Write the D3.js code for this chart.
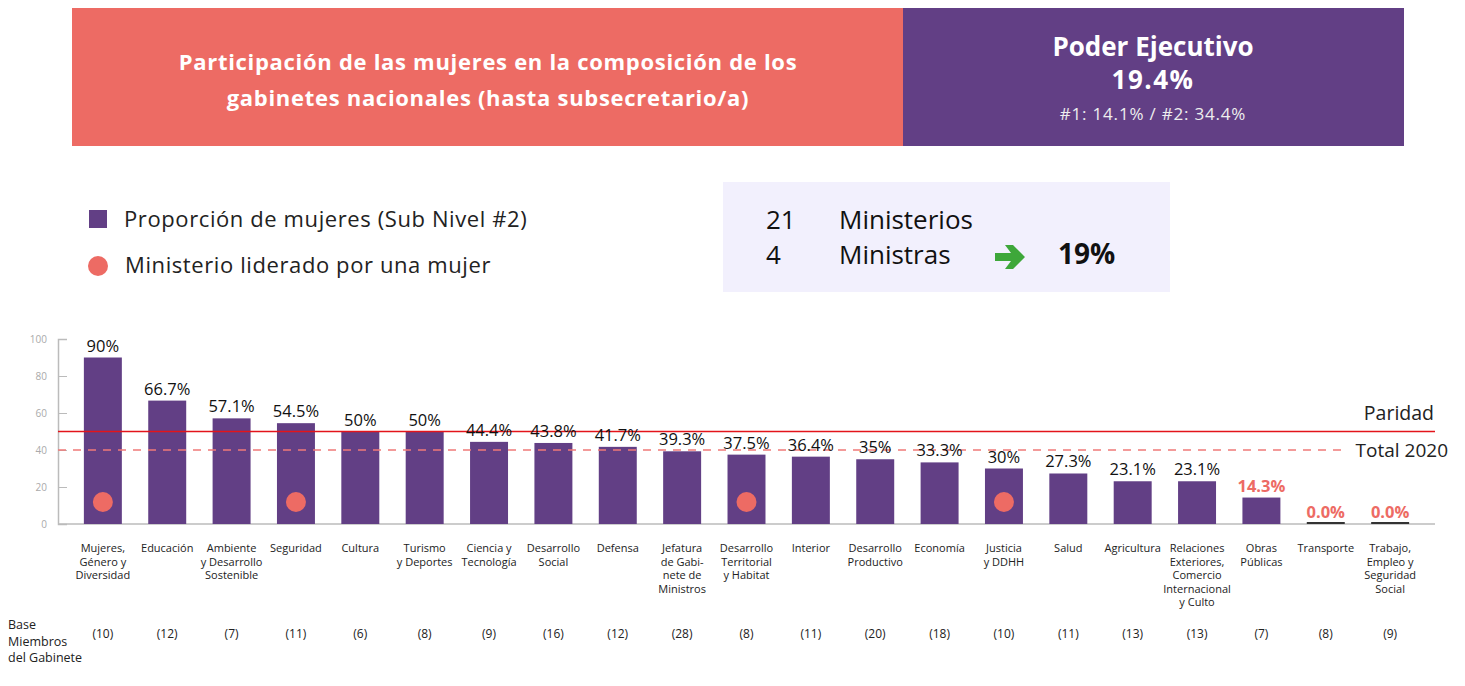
<!DOCTYPE html>
<html>
<head>
<meta charset="utf-8">
<script src="https://cdn.jsdelivr.net/npm/d3@7"></script>
<style>
  body { margin: 0; background: #fff; }
  svg { display: block; font-family: "Open Sans", Lato, sans-serif; }
</style>
</head>
<body>
<svg id="svg" width="1465" height="686"></svg>
<script>
// data
var categories = [
  ['Mujeres,', 'Género y', 'Diversidad'],
  ['Educación'],
  ['Ambiente', 'y Desarrollo', 'Sostenible'],
  ['Seguridad'],
  ['Cultura'],
  ['Turismo', 'y Deportes'],
  ['Ciencia y', 'Tecnología'],
  ['Desarrollo', 'Social'],
  ['Defensa'],
  ['Jefatura', 'de Gabi-', 'nete de', 'Ministros'],
  ['Desarrollo', 'Territorial', 'y Habitat'],
  ['Interior'],
  ['Desarrollo', 'Productivo'],
  ['Economía'],
  ['Justicia', 'y DDHH'],
  ['Salud'],
  ['Agricultura'],
  ['Relaciones', 'Exteriores,', 'Comercio', 'Internacional', 'y Culto'],
  ['Obras', 'Públicas'],
  ['Transporte'],
  ['Trabajo,', 'Empleo y', 'Seguridad', 'Social']
];
var values = [90, 66.7, 57.1, 54.5, 50, 50, 44.4, 43.8, 41.7, 39.3, 37.5, 36.4, 35, 33.3, 30, 27.3, 23.1, 23.1, 14.3, 0, 0];
var valueLabels = ['90%', '66.7%', '57.1%', '54.5%', '50%', '50%', '44.4%', '43.8%', '41.7%', '39.3%', '37.5%', '36.4%', '35%', '33.3%', '30%', '27.3%', '23.1%', '23.1%', '14.3%', '0.0%', '0.0%'];
var highlighted = [false, false, false, false, false, false, false, false, false, false, false, false, false, false, false, false, false, false, true, true, true];
var bases = [10, 12, 7, 11, 6, 8, 9, 16, 12, 28, 8, 11, 20, 18, 10, 11, 13, 13, 7, 8, 9];
var ledByWoman = [true, false, false, true, false, false, false, false, false, false, true, false, false, false, true, false, false, false, false, false, false];
var yTicks = [0, 20, 40, 60, 80, 100];
var parity = 50;
var total2020 = 40;

var purple = '#623f85';
var coral = '#ed6b64';

var svg = d3.select('svg');

// header
svg.append('rect').attr('x', 72).attr('y', 8).attr('width', 831).attr('height', 138).attr('fill', coral);
svg.append('rect').attr('x', 903).attr('y', 8).attr('width', 501).attr('height', 138).attr('fill', purple);

var title = ['Participación de las mujeres en la composición de los', 'gabinetes nacionales (hasta subsecretario/a)'];
svg.selectAll('.title').data(title).enter().append('text')
    .attr('x', 488).attr('y', function(d, i) { return 70 + i * 36; })
    .attr('text-anchor', 'middle').attr('fill', '#fff')
    .attr('font-size', 22).attr('font-weight', 'bold').attr('letter-spacing', 0.7)
    .text(function(d) { return d; });

svg.append('text').attr('x', 1153).attr('y', 56).attr('text-anchor', 'middle')
    .attr('fill', '#fff').attr('font-size', 26).attr('font-weight', 'bold').text('Poder Ejecutivo');
svg.append('text').attr('x', 1153).attr('y', 89).attr('text-anchor', 'middle')
    .attr('fill', '#fff').attr('font-size', 26).attr('font-weight', 'bold').attr('letter-spacing', 1.5).text('19.4%');
svg.append('text').attr('x', 1153).attr('y', 120).attr('text-anchor', 'middle')
    .attr('fill', '#eee').attr('font-size', 17).attr('letter-spacing', 0.8).text('#1: 14.1% / #2: 34.4%');

// legend
svg.append('rect').attr('x', 89).attr('y', 210).attr('width', 18).attr('height', 18).attr('fill', purple);
svg.append('text').attr('x', 124).attr('y', 227).attr('font-size', 22).attr('letter-spacing', 0.6).attr('fill', '#222')
    .text('Proporción de mujeres (Sub Nivel #2)');
svg.append('circle').attr('cx', 98).attr('cy', 266).attr('r', 10).attr('fill', coral);
svg.append('text').attr('x', 125).attr('y', 273).attr('font-size', 22).attr('letter-spacing', 0.6).attr('fill', '#222')
    .text('Ministerio liderado por una mujer');

// info box
svg.append('rect').attr('x', 723).attr('y', 182).attr('width', 447).attr('height', 110).attr('fill', '#f2f0fd');
svg.append('text').attr('x', 766).attr('y', 229).attr('font-size', 26).attr('fill', '#111').text('21');
svg.append('text').attr('x', 839).attr('y', 229).attr('font-size', 26).attr('fill', '#111').text('Ministerios');
svg.append('text').attr('x', 766).attr('y', 264).attr('font-size', 26).attr('fill', '#111').text('4');
svg.append('text').attr('x', 839).attr('y', 264).attr('font-size', 26).attr('fill', '#111').text('Ministras');
svg.append('path')
    .attr('d', 'M995,253 L1011,253 L1005,245 L1013,245 L1025,257 L1013,269 L1005,269 L1011,261 L995,261 Z')
    .attr('fill', '#3ea73a');
svg.append('text').attr('x', 1058).attr('y', 264).attr('font-size', 28).attr('font-weight', 'bold')
    .attr('fill', '#111').text('19%');

// chart
var x = d3.scaleBand()
    .domain(d3.range(categories.length))
    .range([71, 1422])
    .paddingInner(0.41)
    .paddingOuter(0.2);

var y = d3.scaleLinear().domain([0, 100]).range([524, 339]);

var yAxis = svg.append('g')
    .attr('transform', 'translate(58,0)')
    .call(d3.axisRight(y).tickValues(yTicks).tickSize(9).tickFormat(''));
yAxis.selectAll('line').attr('stroke', '#bbb');
yAxis.select('.domain').attr('stroke', '#bbb').attr('stroke-width', 1.5);

svg.selectAll('.ytick').data(yTicks).enter().append('text')
    .attr('x', 47).attr('y', function(d) { return y(d) + 4; })
    .attr('text-anchor', 'end').attr('font-size', 10).attr('fill', '#aaa')
    .text(function(d) { return d; });

svg.append('line').attr('x1', 58).attr('x2', 1435).attr('y1', y(0)).attr('y2', y(0))
    .attr('stroke', '#bbb').attr('stroke-width', 1.5);

svg.selectAll('.bar').data(values).enter().append('rect')
    .attr('x', function(d, i) { return x(i); })
    .attr('width', x.bandwidth())
    .attr('y', function(d) { return d > 0 ? y(d) : y(0) - 2; })
    .attr('height', function(d) { return d > 0 ? y(0) - y(d) : 2; })
    .attr('fill', function(d) { return d > 0 ? purple : '#333'; });

// reference lines
svg.append('line').attr('x1', 58).attr('x2', 1435).attr('y1', y(parity)).attr('y2', y(parity))
    .attr('stroke', '#e3141b').attr('stroke-width', 1.5);
svg.append('line').attr('x1', 58).attr('x2', 1345).attr('y1', y(total2020)).attr('y2', y(total2020))
    .attr('stroke', '#f07a78').attr('stroke-width', 1.5).attr('stroke-dasharray', '8,7');
svg.append('text').attr('x', 1434).attr('y', 420).attr('text-anchor', 'end')
    .attr('font-size', 19.5).attr('fill', '#222').text('Paridad');
svg.append('text').attr('x', 1448).attr('y', 457).attr('text-anchor', 'end')
    .attr('font-size', 19).attr('fill', '#222').text('Total 2020');

svg.selectAll('.lead').data(values).enter()
    .filter(function(d, i) { return ledByWoman[i]; })
    .append('circle')
    .attr('cx', function(d) { return x(values.indexOf(d)) + x.bandwidth() / 2; })
    .attr('cy', 502).attr('r', 10).attr('fill', coral);

svg.selectAll('.vlabel').data(valueLabels).enter().append('text')
    .attr('x', function(d, i) { return x(i) + x.bandwidth() / 2; })
    .attr('y', function(d, i) { return y(values[i]) - 6; })
    .attr('text-anchor', 'middle')
    .attr('font-size', 16.5)
    .attr('font-weight', function(d, i) { return highlighted[i] ? 'bold' : 'normal'; })
    .attr('fill', function(d, i) { return highlighted[i] ? coral : '#111'; })
    .text(function(d) { return d; });

// category labels
var catG = svg.selectAll('.cat').data(categories).enter().append('text')
    .attr('text-anchor', 'middle').attr('font-size', 11).attr('fill', '#222');
catG.each(function(lines, i) {
    d3.select(this).selectAll('tspan').data(lines).enter().append('tspan')
        .attr('x', x(i) + x.bandwidth() / 2)
        .attr('y', function(d, j) { return 552 + j * 13.5; })
        .text(function(d) { return d; });
});

svg.selectAll('.base').data(bases).enter().append('text')
    .attr('x', function(d, i) { return x(i) + x.bandwidth() / 2; })
    .attr('y', 638).attr('text-anchor', 'middle').attr('font-size', 12).attr('fill', '#222')
    .text(function(d) { return '(' + d + ')'; });

svg.selectAll('.baselab').data(['Base', 'Miembros', 'del Gabinete']).enter().append('text')
    .attr('x', 8).attr('y', function(d, i) { return 629 + i * 16.5; })
    .attr('font-size', 12.5).attr('fill', '#222')
    .text(function(d) { return d; });
</script>
</body>
</html>
